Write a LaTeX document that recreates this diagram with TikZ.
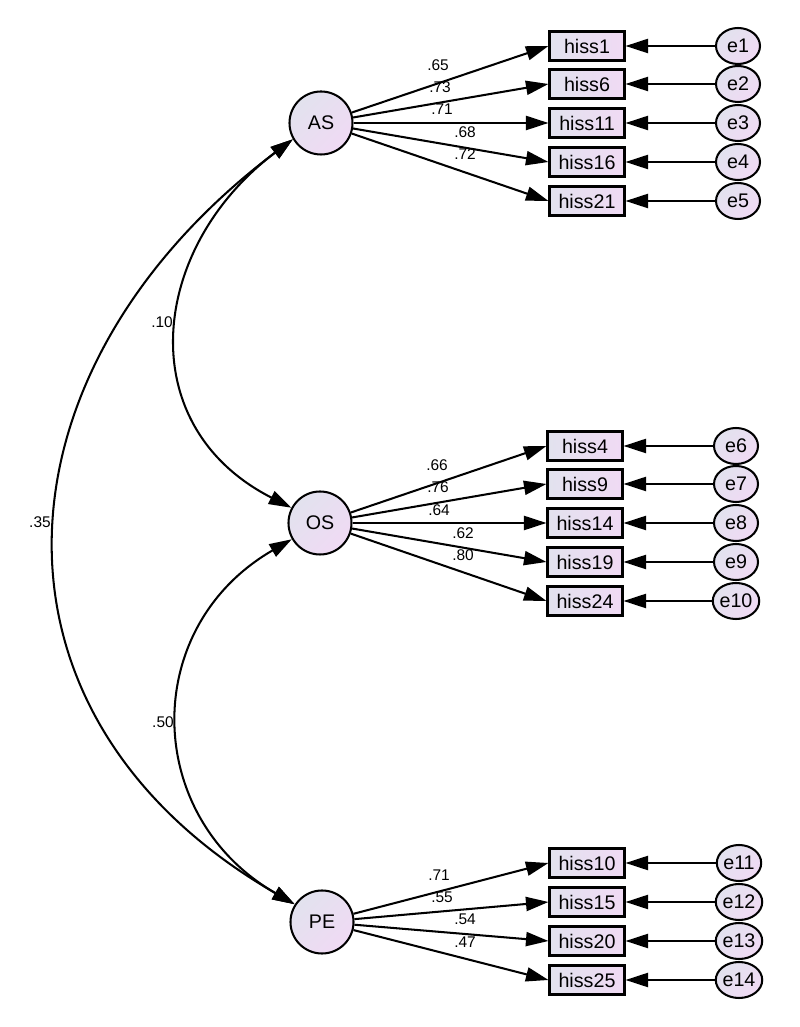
\documentclass[tikz,border=0pt]{standalone}
\usepackage{fontspec}
\setmainfont{Liberation Sans}
\usetikzlibrary{arrows.meta,shapes.geometric}
\definecolor{fillA}{RGB}{226,226,238}
\definecolor{fillB}{RGB}{240,218,244}
\def\nfont{\fontsize{14}{16}\selectfont}

\begin{document}
\begin{tikzpicture}[x=0.025cm,y=0.025cm,>={Triangle[length=16pt,width=10pt]},
    lat/.style={circle,draw,line width=1.45pt,minimum size=1.575cm,inner sep=0pt,top color=fillA,bottom color=fillB,shading angle=45,font=\nfont},
    obs/.style={rectangle,draw,line width=1.45pt,minimum width=1.875cm,minimum height=0.725cm,inner sep=0pt,left color=fillA,right color=fillB,font=\nfont},
    err/.style={ellipse,draw,line width=1.45pt,minimum width=1.1cm,minimum height=0.9cm,inner sep=0pt,top color=fillA,bottom color=fillB,shading angle=45,font=\nfont},
    lbl/.style={font=\fontsize{11}{13}\selectfont,inner sep=0pt},
    ln/.style={line width=1.45pt}]
        \useasboundingbox (0,0) rectangle (800,1027);
        % latent factors
        \node[lat] (AS) at (321,904) {AS};
        \node[lat] (OS) at (320,504) {OS};
        \node[lat] (PE) at (322,105) {PE};
        % AS items
        \node[obs] (h1) at (587,981) {hiss1};
        \node[obs] (h6) at (587,943) {hiss6};
        \node[obs] (h11) at (587,904) {hiss11};
        \node[obs] (h16) at (587,865) {hiss16};
        \node[obs] (h21) at (587,826) {hiss21};
        \node[err] (e1) at (738,981) {e1};
        \node[err] (e2) at (738,943) {e2};
        \node[err] (e3) at (738,904) {e3};
        \node[err] (e4) at (738,865) {e4};
        \node[err] (e5) at (738,826) {e5};
        % OS items
        \node[obs] (h4) at (585,581) {hiss4};
        \node[obs] (h9) at (585,543) {hiss9};
        \node[obs] (h14) at (585,504) {hiss14};
        \node[obs] (h19) at (585,465) {hiss19};
        \node[obs] (h24) at (585,426) {hiss24};
        \node[err] (e6) at (736,581) {e6};
        \node[err] (e7) at (736,543) {e7};
        \node[err] (e8) at (736,504) {e8};
        \node[err] (e9) at (736,465) {e9};
        \node[err] (e10) at (736,426) {e10};
        % PE items
        \node[obs] (h10) at (587,164) {hiss10};
        \node[obs] (h15) at (587,125) {hiss15};
        \node[obs] (h20) at (587,86) {hiss20};
        \node[obs] (h25) at (587,47) {hiss25};
        \node[err] (e11) at (739,164) {e11};
        \node[err] (e12) at (739,125) {e12};
        \node[err] (e13) at (739,86) {e13};
        \node[err] (e14) at (739,47) {e14};

        % loadings
        \draw[ln,->] (AS) -- (h1.west);
        \draw[ln,->] (AS) -- (h6.west);
        \draw[ln,->] (AS) -- (h11.west);
        \draw[ln,->] (AS) -- (h16.west);
        \draw[ln,->] (AS) -- (h21.west);
        \draw[ln,->] (OS) -- (h4.west);
        \draw[ln,->] (OS) -- (h9.west);
        \draw[ln,->] (OS) -- (h14.west);
        \draw[ln,->] (OS) -- (h19.west);
        \draw[ln,->] (OS) -- (h24.west);
        \draw[ln,->] (PE) -- (h10.west);
        \draw[ln,->] (PE) -- (h15.west);
        \draw[ln,->] (PE) -- (h20.west);
        \draw[ln,->] (PE) -- (h25.west);
        % errors
        \draw[ln,->] (e1) -- (h1);
        \draw[ln,->] (e2) -- (h6);
        \draw[ln,->] (e3) -- (h11);
        \draw[ln,->] (e4) -- (h16);
        \draw[ln,->] (e5) -- (h21);
        \draw[ln,->] (e6) -- (h4);
        \draw[ln,->] (e7) -- (h9);
        \draw[ln,->] (e8) -- (h14);
        \draw[ln,->] (e9) -- (h19);
        \draw[ln,->] (e10) -- (h24);
        \draw[ln,->] (e11) -- (h10);
        \draw[ln,->] (e12) -- (h15);
        \draw[ln,->] (e13) -- (h20);
        \draw[ln,->] (e14) -- (h25);

        % covariances
        \draw[ln,<->] (AS.210) to[out=217,in=153,looseness=1.25] (OS.152);
        \draw[ln,<->] (AS.210) to[out=217,in=150,looseness=1.27] (PE.147);
        \draw[ln,<->] (OS.210) to[out=210,in=150,looseness=1.23] (PE.147);

        % estimates
        \node[lbl] at (438,962) {.65};
        \node[lbl] at (440,940) {.73};
        \node[lbl] at (442,918) {.71};
        \node[lbl] at (465,895) {.68};
        \node[lbl] at (465,873) {.72};
        \node[lbl] at (437,562) {.66};
        \node[lbl] at (438,540) {.76};
        \node[lbl] at (439,517) {.64};
        \node[lbl] at (463,494) {.62};
        \node[lbl] at (463,472) {.80};
        \node[lbl] at (439,152) {.71};
        \node[lbl] at (442,130) {.55};
        \node[lbl] at (465,108) {.54};
        \node[lbl] at (465,85) {.47};
        \node[lbl] at (162,705) {.10};
        \node[lbl] at (40,505) {.35};
        \node[lbl] at (163,305) {.50};
\end{tikzpicture}
\end{document}
